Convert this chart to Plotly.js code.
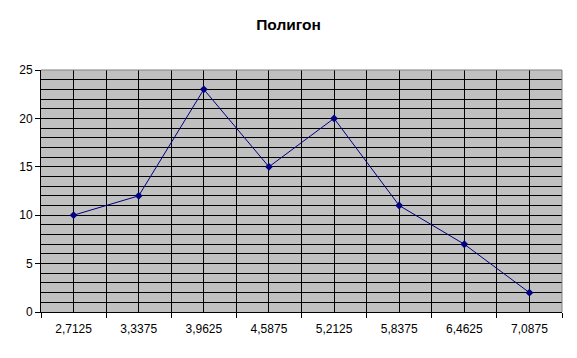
<!DOCTYPE html>
<html>
<head>
<meta charset="utf-8">
<script src="https://cdn.plot.ly/plotly-3.0.1.min.js"></script>
<style>html,body{margin:0;padding:0;background:#fff;}#chart{width:577px;height:358px;}</style>
</head>
<body>
<div id="chart"></div>
<script>
const categories = ["2,7125", "3,3375", "3,9625", "4,5875", "5,2125", "5,8375", "6,4625", "7,0875"];
const values = [10, 12, 23, 15, 20, 11, 7, 2];
const yTicks = [0, 5, 10, 15, 20, 25];
const chartTitle = "Полигон";

const xIdx = categories.map((c, i) => i);

const trace = {
  x: xIdx,
  y: values,
  type: "scatter",
  mode: "lines+markers",
  line: { color: "#000080", width: 1 },
  marker: { symbol: "diamond", size: 6, color: "#000080" },
  hoverinfo: "skip"
};

const layout = {
  width: 577, height: 358,
  margin: { l: 41, r: 15, t: 70, b: 46 },
  paper_bgcolor: "#ffffff",
  plot_bgcolor: "#c0c0c0",
  font: { family: "Liberation Sans, Arial, sans-serif", size: 12, color: "#000" },
  title: { text: "<b>" + chartTitle + "</b>", x: 0.5, xanchor: "center", y: 0.93, yanchor: "middle", font: { size: 15.5, color: "#000" } },
  showlegend: false,
  xaxis: {
    type: "linear",
    range: [-0.5, categories.length - 0.5],
    tickmode: "array",
    tickvals: xIdx,
    ticktext: categories,
    ticks: "",
    showgrid: true, gridcolor: "#000", gridwidth: 1,
    showline: true, linecolor: "#000", linewidth: 1,
    zeroline: false,
    fixedrange: true,
    tickfont: { size: 12 },
    ticklabelstandoff: 6,
    minor: { tickmode: "linear", tick0: -0.5, dtick: 1, showgrid: true, gridcolor: "#000", gridwidth: 1, ticks: "outside", ticklen: 5, tickcolor: "#000" }
  },
  yaxis: {
    range: [0, 25],
    tickmode: "array",
    tickvals: yTicks,
    ticktext: yTicks.map(String),
    ticks: "outside", ticklen: 5, tickcolor: "#000",
    showgrid: true, gridcolor: "#000", gridwidth: 1,
    showline: true, linecolor: "#000", linewidth: 1,
    zeroline: false,
    fixedrange: true,
    tickfont: { size: 12 },
    minor: { tickmode: "linear", tick0: 0, dtick: 1, showgrid: true, gridcolor: "#000", gridwidth: 1 }
  },
  shapes: [
    { type: "line", xref: "paper", yref: "paper", x0: 0, x1: 1, y0: 1, y1: 1, line: { color: "#808080", width: 1 }, layer: "above" },
    { type: "line", xref: "paper", yref: "paper", x0: 1, x1: 1, y0: 0, y1: 1, line: { color: "#808080", width: 1 }, layer: "above" }
  ]
};

Plotly.newPlot("chart", [trace], layout, { displayModeBar: false, staticPlot: true });
</script>
</body>
</html>
